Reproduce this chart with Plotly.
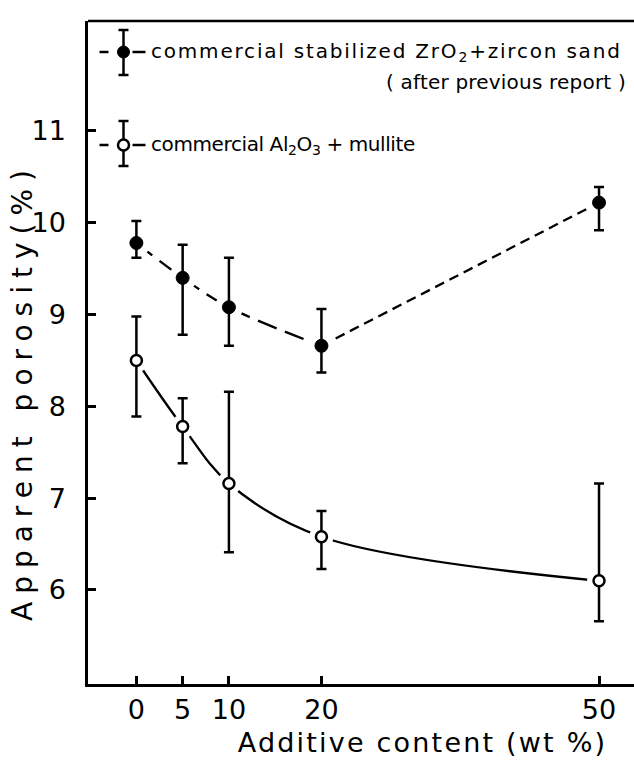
import plotly.graph_objects as go

# ---- data ----
additive = [0, 5, 10, 20, 50]

zro2_mean = [9.78, 9.40, 9.08, 8.66, 10.22]
zro2_upper = [10.02, 9.76, 9.62, 9.06, 10.39]
zro2_lower = [9.62, 8.78, 8.66, 8.37, 9.92]

al2o3_mean = [8.50, 7.78, 7.16, 6.58, 6.10]
al2o3_upper = [8.98, 8.09, 8.16, 6.86, 7.16]
al2o3_lower = [7.89, 7.38, 6.41, 6.23, 5.66]

x_ticks = [0, 5, 10, 20, 50]
y_ticks = [6, 7, 8, 9, 10, 11]

label_zro2 = "commercial stabilized ZrO<sub>2</sub>+zircon sand"
label_zro2_note = "( after previous report )"
label_al2o3 = "commercial Al<sub>2</sub>O<sub>3</sub> + mullite"
x_title = "Additive content (wt %)"
y_title = "Apparent porosity(%)"

# ---- layout geometry ----
W, H = 634, 760
ML, MR, MT, MB = 88, 0, 21, 76
PW, PH = W - ML - MR, H - MT - MB


def px(xp):
    return (xp - ML) / PW


def py(yp):
    return (H - MB - yp) / PH


FONT = "DejaVu Sans"
BLK = "black"

zro2_plus = [u - m for u, m in zip(zro2_upper, zro2_mean)]
zro2_minus = [m - l for m, l in zip(zro2_mean, zro2_lower)]
al_plus = [u - m for u, m in zip(al2o3_upper, al2o3_mean)]
al_minus = [m - l for m, l in zip(al2o3_mean, al2o3_lower)]

n_first = 4  # points joined by the long-dashed part

fig = go.Figure()

# curves
fig.add_trace(go.Scatter(
    x=additive[:n_first], y=zro2_mean[:n_first], mode="lines",
    line=dict(color=BLK, width=2.3, dash="20px,9px", shape="spline"),
    hoverinfo="skip"))
fig.add_trace(go.Scatter(
    x=additive[n_first - 1:], y=zro2_mean[n_first - 1:], mode="lines",
    line=dict(color=BLK, width=2.3, dash="10px,6px"),
    hoverinfo="skip"))
fig.add_trace(go.Scatter(
    x=additive, y=al2o3_mean, mode="lines",
    line=dict(color=BLK, width=2.3, shape="spline"),
    hoverinfo="skip"))

# white halos producing the gaps between line and markers
fig.add_trace(go.Scatter(
    x=additive, y=zro2_mean, mode="markers",
    marker=dict(size=28, color="white", line=dict(width=0)), hoverinfo="skip"))
fig.add_trace(go.Scatter(
    x=additive, y=al2o3_mean, mode="markers",
    marker=dict(size=24, color="white", line=dict(width=0)), hoverinfo="skip"))

# points with error bars
fig.add_trace(go.Scatter(
    x=additive, y=zro2_mean, mode="markers",
    marker=dict(size=13, color=BLK, line=dict(color=BLK, width=1)),
    error_y=dict(type="data", array=zro2_plus, arrayminus=zro2_minus,
                 color=BLK, thickness=2.5, width=5)))
fig.add_trace(go.Scatter(
    x=additive, y=al2o3_mean, mode="markers",
    marker=dict(size=11, color="white", line=dict(color=BLK, width=2.5)),
    error_y=dict(type="data", array=al_plus, arrayminus=al_minus,
                 color=BLK, thickness=2.5, width=5)))

# ---- legend glyphs drawn by hand ----
shapes = []


def glyph(cx, cy, top, bot, filled):
    lw = 2.5
    shapes.append(dict(type="line", xref="paper", yref="paper",
                       x0=px(cx), x1=px(cx), y0=py(top), y1=py(bot),
                       line=dict(color=BLK, width=lw)))
    for yy in (top, bot):
        shapes.append(dict(type="line", xref="paper", yref="paper",
                           x0=px(cx - 5), x1=px(cx + 5), y0=py(yy), y1=py(yy),
                           line=dict(color=BLK, width=lw)))
    shapes.append(dict(type="line", xref="paper", yref="paper",
                       x0=px(cx - 24), x1=px(cx - 15), y0=py(cy), y1=py(cy),
                       line=dict(color=BLK, width=lw)))
    shapes.append(dict(type="line", xref="paper", yref="paper",
                       x0=px(cx + 9), x1=px(cx + 22), y0=py(cy), y1=py(cy),
                       line=dict(color=BLK, width=lw)))
    r = 6 if filled else 5.5
    shapes.append(dict(type="circle", xref="paper", yref="paper",
                       x0=px(cx - r), x1=px(cx + r), y0=py(cy - r), y1=py(cy + r),
                       fillcolor=BLK if filled else "white",
                       line=dict(color=BLK, width=1 if filled else 2.5)))


glyph(123.5, 52, 30, 75, True)
glyph(123.5, 145, 121, 166, False)

# top frame line
shapes.append(dict(type="line", xref="paper", yref="paper", x0=0, x1=1, y0=1, y1=1,
                   line=dict(color=BLK, width=2.5)))

annotations = [
    dict(text=label_zro2, x=px(149), y=py(52), xref="paper", yref="paper",
         xanchor="left", yanchor="middle", align="left", showarrow=False,
         font=dict(family=FONT, size=20, color=BLK)),
    dict(text=label_zro2_note, x=px(628), y=py(82), xref="paper", yref="paper",
         xanchor="right", yanchor="middle", align="right", showarrow=False,
         font=dict(family=FONT, size=20, color=BLK)),
    dict(text=label_al2o3, x=px(149), y=py(145), xref="paper", yref="paper",
         xanchor="left", yanchor="middle", align="left", showarrow=False,
         font=dict(family=FONT, size=20, color=BLK)),
    dict(text=x_title, x=px(422), y=py(743), xref="paper", yref="paper",
         xanchor="center", yanchor="middle", showarrow=False,
         font=dict(family=FONT, size=27, color=BLK)),
    dict(text=y_title, x=px(22), y=py(392), xref="paper", yref="paper",
         xanchor="center", yanchor="middle", showarrow=False, textangle=-90,
         font=dict(family=FONT, size=28, color=BLK)),
]

fig.update_layout(
    width=W, height=H,
    margin=dict(l=ML, r=MR, t=MT, b=MB, pad=0),
    paper_bgcolor="white", plot_bgcolor="white",
    showlegend=False,
    shapes=shapes,
    annotations=annotations,
    font=dict(family=FONT, color=BLK),
)

fig.update_xaxes(
    range=[-5.23, 53.78], tickvals=x_ticks, ticktext=[str(v) for v in x_ticks],
    ticks="inside", ticklen=8, tickwidth=2.5, tickcolor=BLK,
    showline=True, linewidth=2.5, linecolor=BLK, mirror=False,
    showgrid=False, zeroline=False,
    tickfont=dict(family=FONT, size=27, color=BLK), ticklabelstandoff=0,
)
fig.update_yaxes(
    range=[4.976, 12.198], tickvals=y_ticks, ticktext=[str(v) for v in y_ticks],
    ticks="inside", ticklen=8, tickwidth=2.5, tickcolor=BLK,
    showline=True, linewidth=2.5, linecolor=BLK, mirror=False,
    showgrid=False, zeroline=False,
    tickfont=dict(family=FONT, size=27, color=BLK), ticklabelstandoff=14,
)

post = """
document.querySelectorAll('text').forEach(function(t){
  var s = t.textContent || '';
  if (s.indexOf('Apparent') === 0) { t.style.letterSpacing = '8px'; }
  else if (s.indexOf('Additive') === 0) { t.style.letterSpacing = '2.2px'; }
  else if (s.indexOf('commercial stab') === 0) { t.style.letterSpacing = '1.8px'; }
  else if (s.indexOf('commercial Al') === 0) { t.style.letterSpacing = '-0.4px'; }
  else if (s.indexOf('( after') === 0) { t.style.letterSpacing = '0.2px'; }
});
"""

fig.write_html("out.html", config={"displayModeBar": False}, post_script=post)
